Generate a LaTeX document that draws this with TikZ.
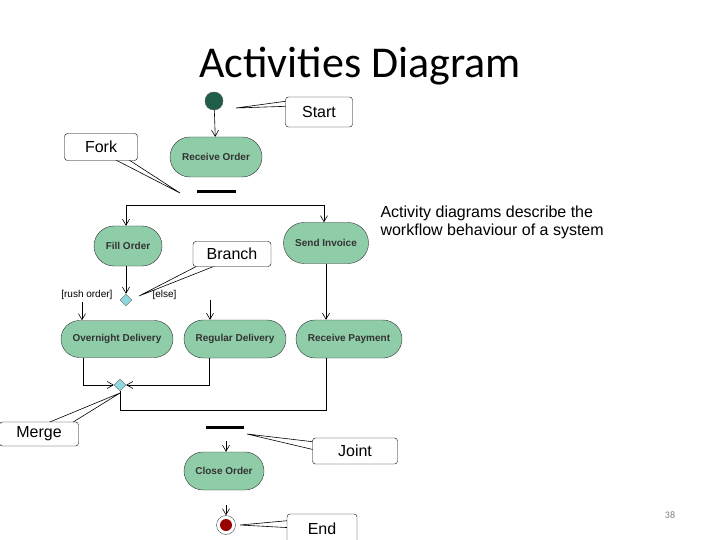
\documentclass[tikz,border=0pt]{standalone}
\usepackage{fontspec}
\setmainfont{Liberation Sans}
\newfontfamily\titlefont{Carlito}
\usetikzlibrary{arrows.meta,shapes.geometric,shapes.misc}
\definecolor{actfill}{HTML}{8FCCA8}
\definecolor{startc}{HTML}{1F5F4A}
\definecolor{diam}{HTML}{8FD8E0}
\begin{document}
\begin{tikzpicture}[x=1pt,y=-1pt,
  act/.style={rounded rectangle,rounded rectangle arc length=180,draw=black!80,fill=actfill,minimum height=39pt,font=\fontsize{10}{11}\selectfont\bfseries,text=black!80,inner sep=0pt},
  call/.style={draw=black,fill=white,rounded corners=3pt,font=\fontsize{16}{18}\selectfont,inner sep=0pt},
  wedge/.style={draw=black,fill=white,line width=0.6pt},
  flow/.style={-{Straight Barb[length=6pt,width=7pt]},line width=0.6pt},
  line/.style={line width=0.6pt},
  bar/.style={line width=3pt},
  dia/.style={diamond,draw=black!60,fill=diam,minimum size=12pt,inner sep=0pt}]
\useasboundingbox (0,0) rectangle (720,540);
\node[font=\titlefont\fontsize{44}{46}\selectfont] (title) at (360,66) {Activities Diagram};
\node[circle,fill=startc,draw=black!70,minimum size=18pt,inner sep=0pt] (start) at (214,101) {};
\node[act,minimum width=92pt,minimum height=40pt] (ro) at (216,157) {Receive Order};
\draw[flow] (start) -- (ro);
\draw[bar] (197,192) -- (236,192);
\coordinate (forkL) at (126,205); \coordinate (forkR) at (324,205);
\draw[line] (forkL) -- (forkR);
\node[act,minimum width=68pt,minimum height=40pt] (fill) at (128,246) {Fill Order};
\node[act,minimum width=85pt,minimum height=41pt] (inv) at (326,243) {Send Invoice};
\draw[flow] (forkL) -- (fill.north -| forkL);
\draw[flow] (forkR) -- (inv.north -| forkR);
\node[font=\fontsize{16}{18}\selectfont,align=left,anchor=west] (note) at (377,222) {Activity diagrams describe the\\workflow behaviour of a system};
\node[dia] (br) at (126,300) {};
\draw[flow] (fill.south -| br) -- (br);
\node[font=\fontsize{10}{11}\selectfont,anchor=east] (rush) at (116,295) {[rush order]};
\node[font=\fontsize{10}{11}\selectfont,anchor=west] (else) at (149,295) {[else]};
\node[act,minimum width=112pt,minimum height=37pt] (ov) at (117,339) {Overnight Delivery};
\node[act,minimum width=102pt,minimum height=38pt] (rd) at (235,339) {Regular Delivery};
\node[act,minimum width=106pt,minimum height=38pt] (rp) at (349,339) {Receive Payment};
\coordinate (a1) at (82,302); \coordinate (a2) at (210,300);
\draw[flow] (a1) -- (ov.north -| a1);
\draw[flow] (a2) -- (rd.north -| a2);
\draw[flow] (inv.south -| rp.north) ++(-23,0) coordinate (rps) -- (rp.north -| rps);
\node[dia] (mg) at (120,385) {};
\draw[flow] (ov.south -| 83,0) |- (mg.west);
\draw[flow] (rd.south -| 209,0) |- (mg.east);
\draw[line] (rp.south -| 326,0) |- (120,410) -- (mg.south);
\draw[bar] (206,427) -- (244,427);
\node[act,minimum width=80pt,minimum height=38pt] (co) at (224,471) {Close Order};
\draw[flow] (226,441) -- (co.north -| 226,0);
\node[circle,draw=black!70,fill=white,minimum size=19pt,inner sep=0pt] (end) at (226,525) {};
\node[circle,fill=red!60!black,minimum size=12pt,inner sep=0pt] at (end) {};
\draw[flow] (226,505) -- (end.north);
% callouts
\draw[wedge] (295,100) -- (236,108) -- (295,106);
\node[call,minimum width=67pt,minimum height=30pt] (cs) at (319,112) {Start};
\draw[wedge] (112,158) -- (180,193) -- (126,158);
\node[call,minimum width=73pt,minimum height=27pt] (cf) at (101,147) {Fork};
\draw[wedge] (205,262) -- (139,296) -- (225,262);
\node[call,minimum width=78pt,minimum height=25pt] (cb) at (232,254) {Branch};
\draw[wedge] (45,424) -- (120,393) -- (70,424);
\node[call,minimum width=79pt,minimum height=24pt] (cm) at (39,434) {Merge};
\draw[wedge] (315,442) -- (247,434) -- (315,450);
\node[call,minimum width=85pt,minimum height=26pt] (cj) at (355,451) {Joint};
\draw[wedge] (295,520) -- (240,525) -- (295,528);
\node[call,minimum width=70pt,minimum height=30pt] (ce) at (322,529) {End};
\node[font=\titlefont\fontsize{10}{12}\selectfont,text=black!50] (pg) at (670,515) {38};
\end{tikzpicture}
\end{document}
